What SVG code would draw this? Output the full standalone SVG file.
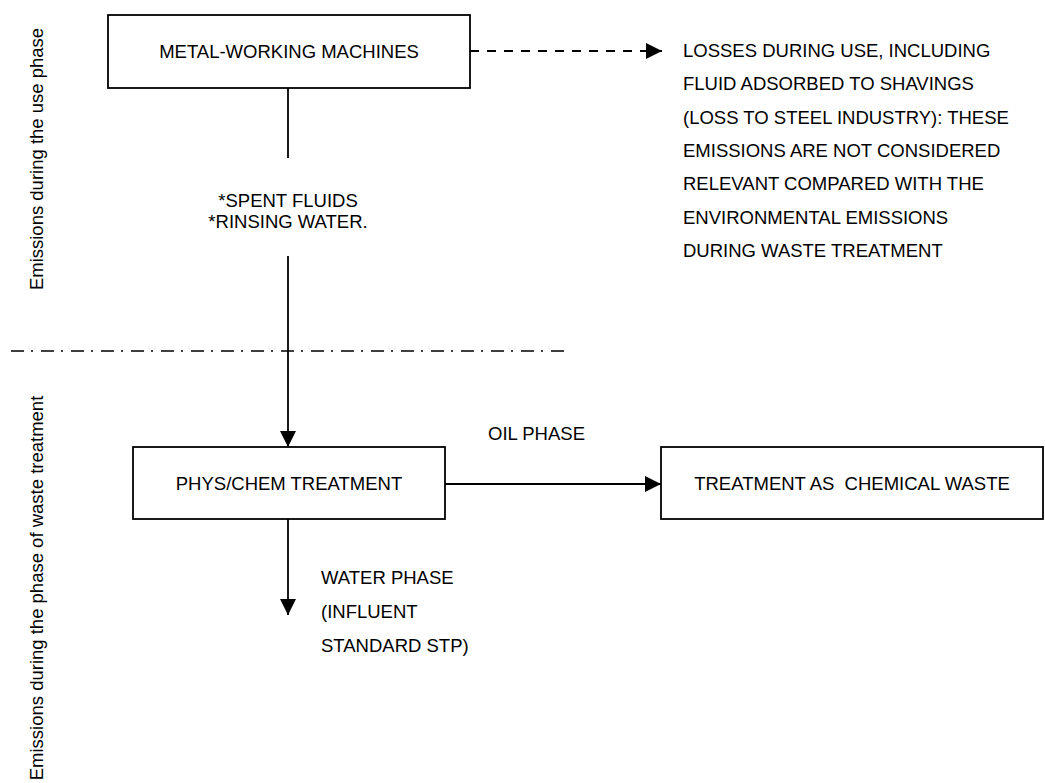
<svg xmlns="http://www.w3.org/2000/svg" width="1045" height="783" viewBox="0 0 1045 783">
<defs>
<style>
text{font-family:"Liberation Sans",Arial,sans-serif;font-size:18.5px;fill:#000;white-space:pre}
.box{fill:#fff;stroke:#000;stroke-width:1.8}
.c{text-anchor:middle}
.ln{fill:none;stroke:#000;stroke-width:1.8}
.dash{stroke-dasharray:9 8}
.dd{fill:none;stroke:#000;stroke-width:1.6;stroke-dasharray:13 7 2 8}
</style>
<marker id="ah" markerUnits="userSpaceOnUse" markerWidth="16" markerHeight="16" viewBox="0 0 16 16" refX="16" refY="8" orient="auto">
<path d="M0,0 L16,8 L0,16 Z" fill="#000" stroke="none"/>
</marker>
</defs>
<rect width="1045" height="783" fill="#fff"/>
<g id="phase-labels">
<text class="c" transform="translate(43,159) rotate(-90)">Emissions during the use phase</text>
<text class="c" transform="translate(43,588) rotate(-90)">Emissions during the phase of waste treatment</text>
<line class="dd" x1="11" y1="351" x2="568" y2="351"/>
</g>
<g id="connectors">
<line class="ln" x1="288" y1="88" x2="288" y2="158"/>
<line class="ln" x1="288" y1="256" x2="288" y2="447" marker-end="url(#ah)"/>
<line class="ln dash" x1="470" y1="51" x2="662" y2="51" marker-end="url(#ah)"/>
<line class="ln" x1="445" y1="484" x2="661" y2="484" marker-end="url(#ah)"/>
<line class="ln" x1="288" y1="519" x2="288" y2="615" marker-end="url(#ah)"/>
</g>
<g id="node-machines">
<rect class="box" x="108" y="15" width="362" height="73"/>
<text class="c" x="289" y="58">METAL-WORKING MACHINES</text>
</g>
<g id="label-spent">
<text class="c" x="288" y="207">*SPENT FLUIDS</text>
<text class="c" x="288" y="228">*RINSING WATER.</text>
</g>
<g id="label-losses">
<text x="683" y="57">LOSSES DURING USE, INCLUDING</text>
<text x="683" y="90.3">FLUID ADSORBED TO SHAVINGS</text>
<text x="683" y="123.6">(LOSS TO STEEL INDUSTRY): THESE</text>
<text x="683" y="156.9">EMISSIONS ARE NOT CONSIDERED</text>
<text x="683" y="190.2">RELEVANT COMPARED WITH THE</text>
<text x="683" y="223.5">ENVIRONMENTAL EMISSIONS</text>
<text x="683" y="256.8">DURING WASTE TREATMENT</text>
</g>
<g id="node-physchem">
<rect class="box" x="133" y="447" width="312" height="72"/>
<text class="c" x="289" y="490">PHYS/CHEM TREATMENT</text>
</g>
<g id="label-oil">
<text x="488" y="440">OIL PHASE</text>
</g>
<g id="node-chemwaste">
<rect class="box" x="661" y="447" width="382" height="72"/>
<text class="c" x="852" y="490">TREATMENT AS  CHEMICAL WASTE</text>
</g>
<g id="label-water">
<text x="321" y="584">WATER PHASE</text>
<text x="321" y="618">(INFLUENT</text>
<text x="321" y="652">STANDARD STP)</text>
</g>
</svg>
